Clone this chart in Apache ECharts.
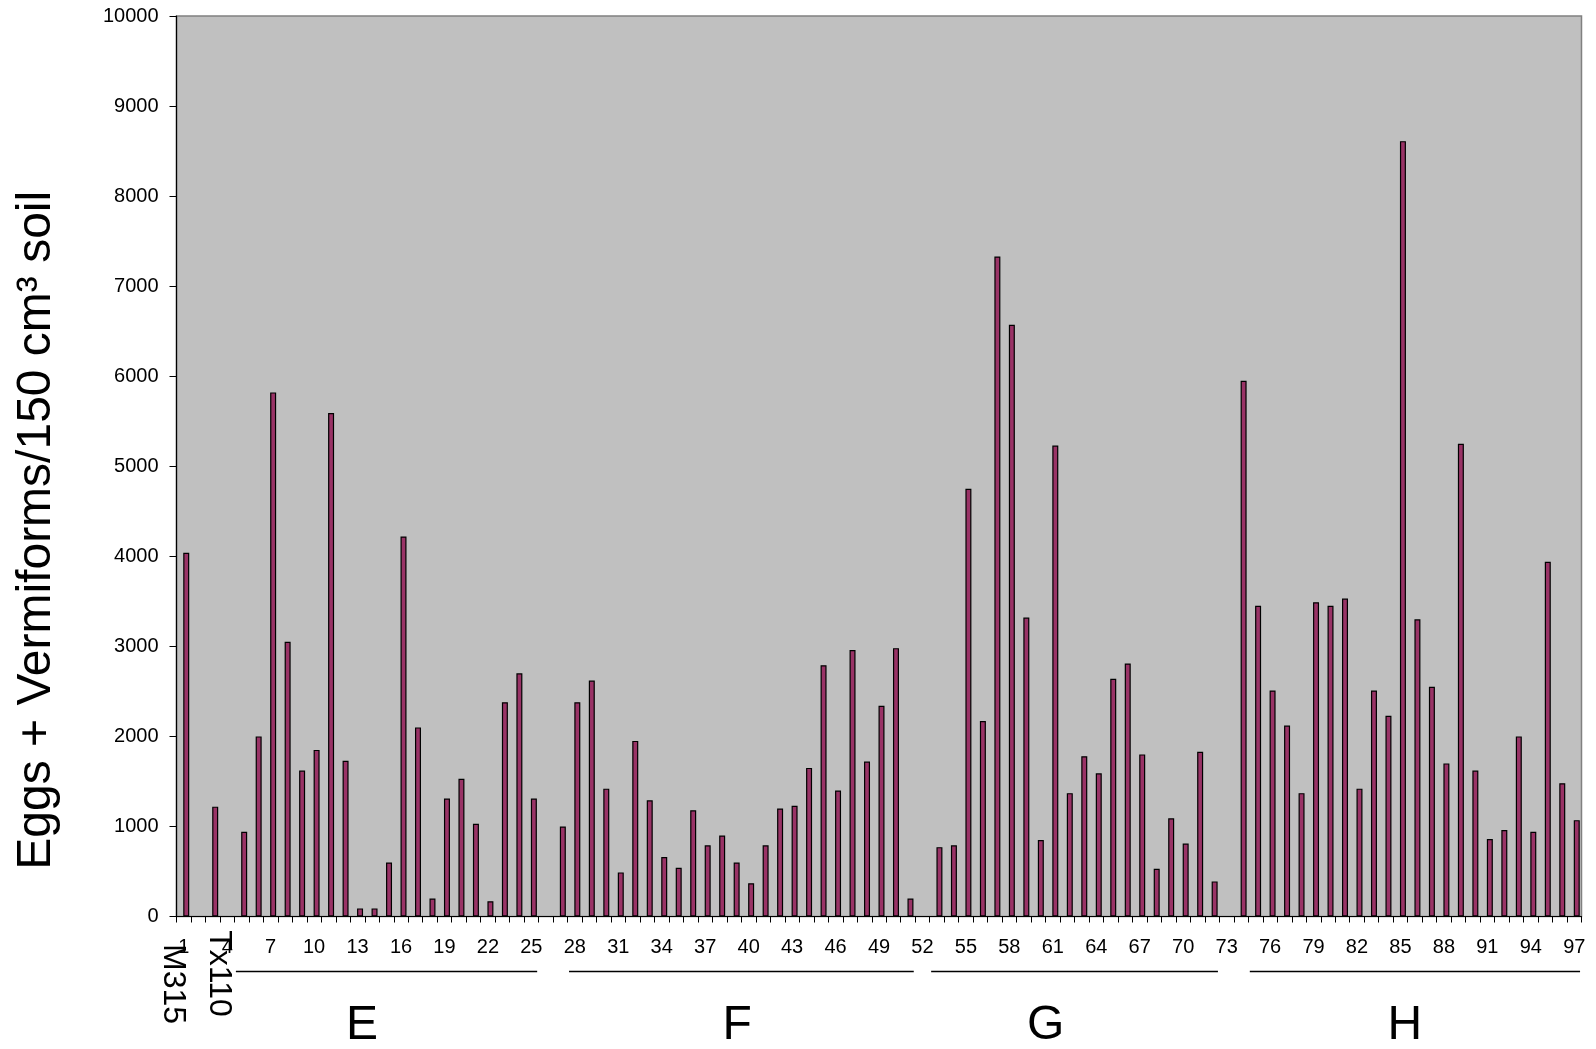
<!DOCTYPE html>
<html><head><meta charset="utf-8">
<script src="https://cdn.jsdelivr.net/npm/echarts@6/dist/echarts.min.js"></script>
<style>html,body{margin:0;padding:0;background:#fff}#c{width:1596px;height:1049px}</style>
</head><body><div id="c"></div>
<script>
// ---- data ----
const categories = ['1','2','3','4','5','6','7','8','9','10','11','12','13','14','15','16','17','18','19','20',
  '21','22','23','24','25','26','27','28','29','30','31','32','33','34','35','36','37','38','39','40',
  '41','42','43','44','45','46','47','48','49','50','51','52','53','54','55','56','57','58','59','60',
  '61','62','63','64','65','66','67','68','69','70','71','72','73','74','75','76','77','78','79','80',
  '81','82','83','84','85','86','87','88','89','90','91','92','93','94','95','96','97'];
const values = [4040,null,1220,null,940,2000,5820,3050,1620,1850,5590,1730,90,90,600,4220,2100,200,1310,1530,
  1030,170,2380,2700,1310,null,1000,2380,2620,1420,490,1950,1290,660,540,1180,790,900,600,370,
  790,1200,1230,1650,2790,1400,2960,1720,2340,2980,200,null,770,790,4750,2170,7330,6570,3320,850,
  5230,1370,1780,1590,2640,2810,1800,530,1090,810,1830,390,null,5950,3450,2510,2120,1370,3490,3450,
  3530,1420,2510,2230,8610,3300,2550,1700,5250,1620,860,960,2000,940,3940,1480,1070];
const yMin = 0, yMax = 10000, yStep = 1000;
const yTitle = 'Eggs + Vermiforms/150 cm³ soil';
const checkLabels = [{name:'M315', cat:'1'}, {name:'Tx110', cat:'3'}];
const groups = [
  {name:'E', first:'5',  last:'25'},
  {name:'F', first:'28', last:'51'},
  {name:'G', first:'53', last:'72'},
  {name:'H', first:'75', last:'97'}
];

// ---- chart ----
const FONT = 'Liberation Sans, Arial, sans-serif';
const chart = echarts.init(document.getElementById('c'), null, {renderer:'canvas'});
chart.setOption({
  animation:false,
  backgroundColor:'#ffffff',
  grid:{left:176.5, right:14.5, top:16, bottom:132.5, show:true, backgroundColor:'#C0C0C0', borderColor:'#808080', borderWidth:1.5},
  xAxis:{
    type:'category', data:categories,
    axisLine:{lineStyle:{color:'#000', width:1.2}},
    axisTick:{show:true, interval:0, length:6, lineStyle:{color:'#000'}},
    axisLabel:{interval:2, color:'#000', fontFamily:FONT, fontSize:20, margin:21},
    splitLine:{show:false}
  },
  yAxis:{
    type:'value', min:yMin, max:yMax, interval:yStep,
    name:yTitle, nameLocation:'middle', nameGap:116,
    nameTextStyle:{fontFamily:FONT, fontSize:48, color:'#000', padding:[0,128,0,0]},
    axisLine:{show:true, lineStyle:{color:'#000', width:1.2}},
    axisTick:{show:true, length:7, lineStyle:{color:'#000'}},
    axisLabel:{color:'#000', fontFamily:FONT, fontSize:20, margin:18, formatter:v => String(v)},
    splitLine:{show:false}
  },
  series:[
    {type:'bar', name:'spacer', data:values.map(()=>null), barWidth:5, barGap:'0%', silent:true},
    {type:'bar', name:'Eggs + Vermiforms', data:values, barWidth:6, barGap:'0%',
     itemStyle:{color:'#993366', borderColor:'#000', borderWidth:1.2}}
  ]
});

// group labels & underline segments placed through the category axis scale
const idx = c => categories.indexOf(c);
const p0 = chart.convertToPixel({xAxisIndex:0}, categories[0]);
const p1 = chart.convertToPixel({xAxisIndex:0}, categories[1]);
const step = p1 - p0;
const bx = b => p0 - step/2 + b*step; // boundary position in category units
const groupLabelAt = {E:12.8, F:38.7, G:60.0, H:84.8};
const lineY = 971.5, groupY = 1026;
const g = [];
groups.forEach(gr => {
  const a = bx(idx(gr.first)) + 0.1*step, b = bx(idx(gr.last)+1) - 0.1*step;
  g.push({type:'line', shape:{x1:a, y1:lineY, x2:b, y2:lineY}, style:{stroke:'#000', lineWidth:1.5}});
  g.push({type:'text', x:bx(groupLabelAt[gr.name]), y:groupY,
    style:{text:gr.name, font:'48px '+FONT, fill:'#000', align:'center', verticalAlign:'middle'}});
});
const checkOffset = {M315:{dx:-10.7, y:984}, Tx110:{dx:5.8, y:973.5}};
checkLabels.forEach(c => {
  const x = chart.convertToPixel({xAxisIndex:0}, c.cat) + checkOffset[c.name].dx;
  g.push({type:'text', x:x, y:checkOffset[c.name].y, rotation:-Math.PI/2,
    style:{text:c.name, font:'32px '+FONT, fill:'#000', align:'center', verticalAlign:'middle'}});
});
chart.setOption({graphic:g});
</script></body></html>
